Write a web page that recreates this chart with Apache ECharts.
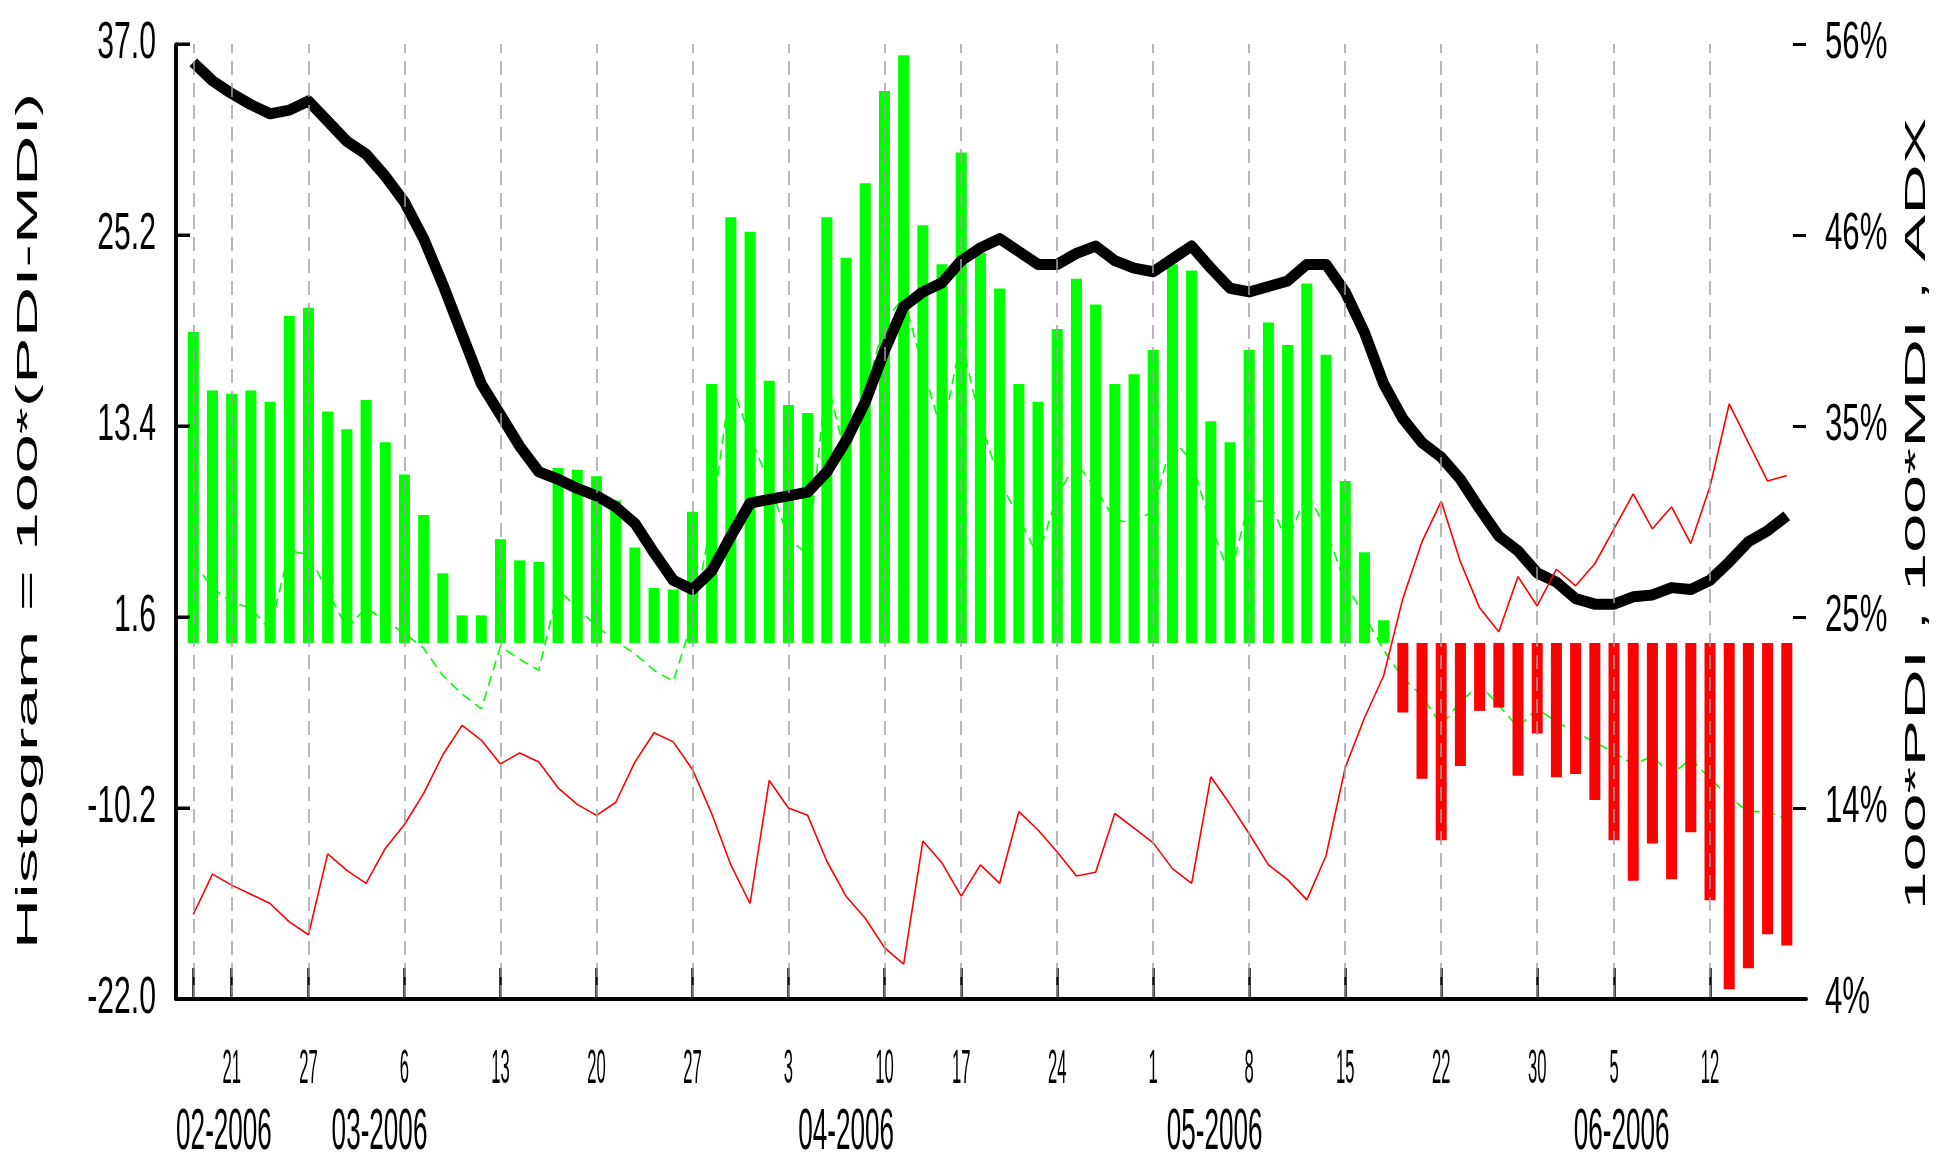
<!DOCTYPE html>
<html>
<head>
<meta charset="utf-8">
<title>PDI / MDI / ADX</title>
<script src="https://cdn.jsdelivr.net/npm/echarts@6/dist/echarts.min.js"></script>
<style>
  html, body { margin: 0; padding: 0; background: #fff; }
  #chart { width: 1956px; height: 1160px; }
</style>
</head>
<body>
<div id="chart"></div>
<script>
// one value per trading day, 2006-02-16 .. 2006-06-16 (84 days)
const hist = [19.2, 15.6, 15.4, 15.6, 14.9, 20.2, 20.7, 14.3, 13.2, 15.0, 12.4, 10.4,
  7.9, 4.3, 1.7, 1.7, 6.4, 5.1, 5.0, 10.8, 10.7, 10.3, 8.8, 5.9,
  3.4, 3.3, 8.1, 16.0, 26.3, 25.4, 16.2, 14.7, 14.2, 26.3, 23.8, 28.4,
  34.1, 36.3, 25.8, 23.4, 30.3, 24.1, 21.9, 16.0, 14.9, 19.4, 22.5, 20.9,
  16.0, 16.6, 18.1, 23.4, 23.0, 13.7, 12.4, 18.1, 19.8, 18.4, 22.2, 17.8,
  10.0, 5.6, 1.4, -4.3, -8.4, -12.2, -7.6, -4.2, -4.0, -8.2, -5.6, -8.3,
  -8.1, -9.7, -12.2, -14.7, -12.4, -14.6, -11.7, -15.9, -21.4, -20.1, -18.0, -18.7];

const mdi = [8.6, 10.8, 10.2, 9.7, 9.2, 8.2, 7.5, 11.9, 11.0, 10.3, 12.2, 13.5,
  15.2, 17.3, 18.9, 18.1, 16.8, 17.4, 16.9, 15.5, 14.6, 14.0, 14.7, 16.9,
  18.5, 18.0, 16.5, 14.1, 11.3, 9.2, 15.9, 14.4, 14.0, 11.5, 9.6, 8.4,
  6.8, 5.9, 12.6, 11.4, 9.6, 11.3, 10.3, 14.2, 13.2, 12.0, 10.7, 10.9,
  14.1, 13.3, 12.5, 11.1, 10.3, 16.1, 14.6, 13.0, 11.3, 10.5, 9.4, 11.8,
  16.6, 19.3, 21.6, 25.8, 28.9, 31.1, 27.8, 25.3, 24.0, 27.0, 25.4, 27.4,
  26.5, 27.7, 29.6, 31.5, 29.6, 30.8, 28.8, 31.9, 36.4, 34.3, 32.2, 32.5];

const pdi = [27.8, 26.4, 25.6, 25.3, 24.1, 28.4, 28.2, 26.2, 24.2, 25.3, 24.6, 23.9,
  23.1, 21.6, 20.6, 19.8, 23.2, 22.5, 21.9, 26.3, 25.3, 24.3, 23.5, 22.8,
  21.9, 21.3, 24.6, 30.1, 37.6, 34.6, 32.1, 29.1, 28.2, 37.8, 33.4, 36.8,
  40.9, 42.2, 38.4, 34.8, 39.9, 35.4, 32.2, 30.2, 28.1, 31.4, 33.2, 31.8,
  30.1, 29.9, 30.6, 34.5, 33.3, 29.8, 27.0, 31.1, 31.1, 28.9, 31.6, 29.6,
  26.6, 24.9, 23.0, 21.5, 20.5, 18.9, 20.2, 21.1, 20.0, 18.8, 19.8, 19.1,
  18.5, 18.0, 17.4, 16.8, 17.2, 16.2, 17.1, 16.0, 15.0, 14.2, 14.2, 13.8];

const adx = [55.0, 54.0, 53.3, 52.7, 52.2, 52.4, 52.9, 51.8, 50.7, 50.0, 48.8, 47.4,
  45.4, 42.9, 40.2, 37.5, 35.8, 34.1, 32.7, 32.3, 31.8, 31.4, 30.8, 29.9,
  28.3, 26.8, 26.3, 27.3, 29.2, 31.0, 31.2, 31.4, 31.6, 32.7, 34.4, 36.5,
  39.3, 41.7, 42.5, 43.0, 44.2, 44.9, 45.4, 44.7, 44.0, 44.0, 44.6, 45.0,
  44.2, 43.8, 43.6, 44.3, 45.0, 43.8, 42.7, 42.5, 42.8, 43.1, 44.0, 44.0,
  42.5, 40.3, 37.5, 35.6, 34.3, 33.5, 32.3, 30.7, 29.2, 28.4, 27.2, 26.7,
  25.8, 25.5, 25.5, 25.9, 26.0, 26.4, 26.3, 26.8, 27.8, 28.9, 29.5, 30.3];

// first trading day of every week (day index) and the day shown under it
const weekStarts = [0, 2, 6, 11, 16, 21, 26, 31, 36, 40, 45, 50, 55, 60, 65, 70, 74, 79];
const weekLabels = ['', '21', '27', '6', '13', '20', '27', '3', '10', '17', '24', '1', '8', '15', '22', '30', '5', '12'];
const months = ['02-2006', '03-2006', '04-2006', '05-2006', '06-2006'];
const leftTicks = [-22.0, -10.2, 1.6, 13.4, 25.2, 37.0];
const rightTicks = [4, 14.4, 24.8, 35.2, 45.6, 56];

// where the month names sit, in day units
const monthAt = [1.6, 9.7, 34.0, 53.2, 74.4];
const xMin = -0.9, xMax = 84;

const chart = echarts.init(document.getElementById('chart'));

const option = {
  animation: false,
  grid: { left: 176, right: 150, top: 44, bottom: 161 },
  xAxis: {
    type: 'value', min: xMin, max: xMax,
    axisLine: { onZero: false, lineStyle: { color: '#000', width: 4 } },
    axisTick: { inside: true, length: 31, lineStyle: { color: '#000', width: 2.5 }, customValues: weekStarts },
    axisLabel: { show: false },
    splitLine: { show: false }
  },
  yAxis: [
    {
      type: 'value', min: -22, max: 37, position: 'left',
      axisLine: { show: true, onZero: false, lineStyle: { color: '#000', width: 3.5 } },
      axisTick: { show: true, inside: true, length: 14, lineStyle: { color: '#000', width: 3 }, customValues: leftTicks },
      axisLabel: { show: false },
      splitLine: { show: false }
    },
    {
      type: 'value', min: 4, max: 56, position: 'right',
      axisLine: { show: false, onZero: false },
      axisTick: { show: true, inside: true, length: 13, lineStyle: { color: '#000', width: 3 }, customValues: rightTicks },
      axisLabel: { show: false },
      splitLine: { show: false }
    }
  ],
  series: [
    {
      name: 'PDI', type: 'line', yAxisIndex: 1, z: 1,
      data: pdi.map((v, i) => [i, v]),
      symbol: 'none',
      lineStyle: { color: '#00ff00', width: 1.6, type: [10, 6] },
      markLine: {
        silent: true, symbol: 'none',
        label: { show: false },
        lineStyle: { color: '#a0a0a0', width: 1.5, type: [14, 8] },
        data: weekStarts.map(d => ({ xAxis: d }))
      }
    },
    {
      name: 'Histogram', type: 'bar', yAxisIndex: 0, z: 2,
      barWidth: 11,
      data: hist.map((v, i) => [i, v]),
      itemStyle: { color: p => p.value[1] >= 0 ? '#00ff00' : '#ff0000' }
    },
    {
      name: 'ADX', type: 'line', yAxisIndex: 1, z: 3,
      data: adx.map((v, i) => [i, v]),
      symbol: 'none',
      lineStyle: { color: '#000', width: 11, join: 'round', cap: 'butt' }
    },
    {
      name: 'MDI', type: 'line', yAxisIndex: 1, z: 4,
      data: mdi.map((v, i) => [i, v]),
      symbol: 'none',
      lineStyle: { color: '#ff0000', width: 1.6 }
    }
  ]
};
chart.setOption(option);

// the reference uses narrow, stretched lettering, so the texts are drawn as scaled graphics
const font = size => size + 'px "Liberation Sans", Arial, sans-serif';
function label(text, x, y, size, sx, align, rot) {
  return {
    type: 'text', x: x, y: y, scaleX: sx, rotation: rot || 0, silent: true,
    style: {
      text: text, font: font(size), fill: '#000',
      align: align, verticalAlign: 'middle', textAlign: align, textVerticalAlign: 'middle'
    }
  };
}
function rule(x1, y1, x2, y2, w) {
  return { type: 'line', z: 100, silent: true, shape: { x1: x1, y1: y1, x2: x2, y2: y2 }, style: { stroke: '#000', lineWidth: w } };
}
const xPx = v => chart.convertToPixel({ xAxisIndex: 0 }, v);
const yLeft = v => chart.convertToPixel({ yAxisIndex: 0 }, v);
const yRight = v => chart.convertToPixel({ yAxisIndex: 1 }, v);

const texts = [];
weekStarts.forEach((d, k) => {
  if (weekLabels[k]) texts.push(label(weekLabels[k], xPx(d), 1069, 49, 0.34, 'center'));
});
months.forEach((m, k) => {
  texts.push(label(m, xPx(monthAt[k]), 1133, 58, 0.45, 'center'));
});
leftTicks.forEach(v => {
  texts.push(label(v.toFixed(1), 156, yLeft(v), 52, 0.58, 'right'));
});
rightTicks.forEach(v => {
  texts.push(label(Math.round(v) + '%', 1825, yRight(v), 52, 0.6, 'left'));
});
texts.push(label('Histogram = 100*(PDI-MDI)', 29, 521, 30, 2.33, 'center', Math.PI / 2));
texts.push(label('100*PDI , 100*MDI , ADX', 1917, 514, 30, 2.33, 'center', Math.PI / 2));

// left frame of the plot, laid on top so nothing hides it
const xL = xPx(xMin), xR = xPx(xMax), yTop = yLeft(37), yBot = yLeft(-22);
texts.push(rule(xL, yTop, xL, yBot, 3.5));
texts.push(rule(xL, yBot, xR, yBot, 4));
leftTicks.forEach(v => texts.push(rule(xL, yLeft(v), xL + 14, yLeft(v), 3)));

chart.setOption({ graphic: texts });
</script>
</body>
</html>
